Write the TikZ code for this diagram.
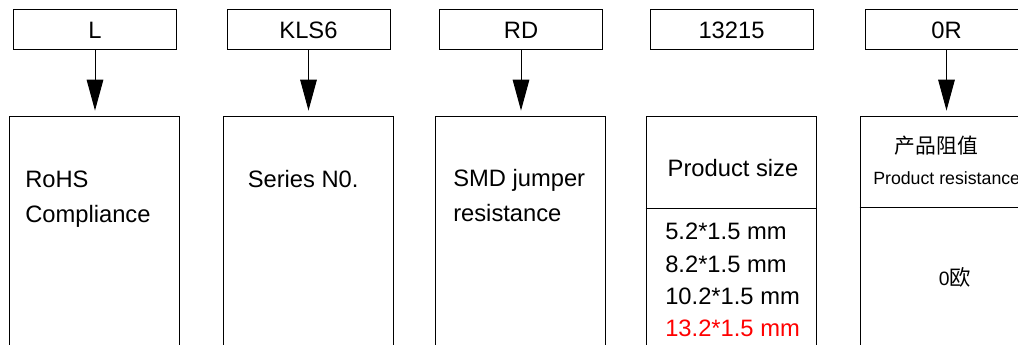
\documentclass[tikz,border=0pt]{standalone}
\usepackage{fontspec}
\setmainfont{Liberation Sans}
\newfontfamily\cjk{Noto Sans CJK SC}
\usetikzlibrary{arrows.meta}

\tikzset{
    codebox/.style={draw, line width=0.75pt, minimum width=122.25pt, minimum height=30pt,
        inner sep=0pt, font=\fontsize{17.8}{21}\selectfont},
    fieldbox/.style={draw, line width=0.75pt, minimum width=127.5pt, minimum height=182.6pt, inner sep=0pt},
    fieldtext/.style={inner sep=0pt, align=left, font=\fontsize{17.8}{26.3}\selectfont},
    arrow/.style={line width=0.75pt, -{Triangle[length=23.3pt, width=12.5pt]}, shorten >=4.1pt}
}

\begin{document}
\begin{tikzpicture}[x=0.75pt, y=-0.75pt]
        \path[use as bounding box, clip] (0, 0) rectangle (1018, 345);

        % code parts
        \node[codebox] at (95, 30)(l){L};
        \node[codebox] at (308.5, 30)(kls){KLS6};
        \node[codebox] at (521, 30)(rd){RD};
        \node[codebox] at (731.5, 30)(dim){13215};
        \node[codebox] at (946.5, 30)(ohm){0R};

        % meaning of each part
        \node[fieldbox] at (94.5, 238.3)(rohs){};
        \node[fieldbox] at (308, 238.3)(series){};
        \node[fieldbox] at (520.5, 238.3)(jumper){};
        \node[fieldbox] at (731, 238.3)(size){};
        \node[fieldbox] at (945, 238.3)(value){};

        \draw[line width=0.75pt] (size.west |- 0, 209) -- (size.east |- 0, 209);
        \draw[line width=0.75pt] (value.west |- 0, 208) -- (value.east |- 0, 208);

        % base = baseline of the last line
        \node[fieldtext, anchor=base west] at (25, 223)(rohstxt){RoHS\\Compliance};
        \node[fieldtext, anchor=base west] at (247.5, 188)(seriestxt){Series N0.};
        \node[fieldtext, anchor=base west] at (453, 222)(jumpertxt){SMD jumper\\resistance};
        \node[fieldtext, anchor=base] at (733, 177)(sizetxt){Product size};
        \node[fieldtext, anchor=base west, font=\fontsize{17.8}{24.3}\selectfont] at (665, 337)(sizelist)
            {5.2*1.5 mm\\8.2*1.5 mm\\10.2*1.5 mm\\\textcolor{red}{13.2*1.5 mm}};
        \node[inner sep=0pt, font=\cjk\fontsize{15.6}{18}\selectfont] at (936.5, 146)(valuecn){产品阻值};
        \node[inner sep=0pt, anchor=base west, font=\fontsize{13.3}{16}\selectfont] at (873, 185)(valuetxt){Product resistance};
        \node[inner sep=0pt, font=\fontsize{14.5}{16}\selectfont] at (955, 277)(zero){0{\cjk\fontsize{16}{18}\selectfont 欧}};

        \path[arrow]
        (l.south)edge(l.south |- rohs.north)
        (kls.south)edge(kls.south |- series.north)
        (rd.south)edge(rd.south |- jumper.north)
        (ohm.south)edge(ohm.south |- value.north)
        ;
    \end{tikzpicture}
\end{document}
